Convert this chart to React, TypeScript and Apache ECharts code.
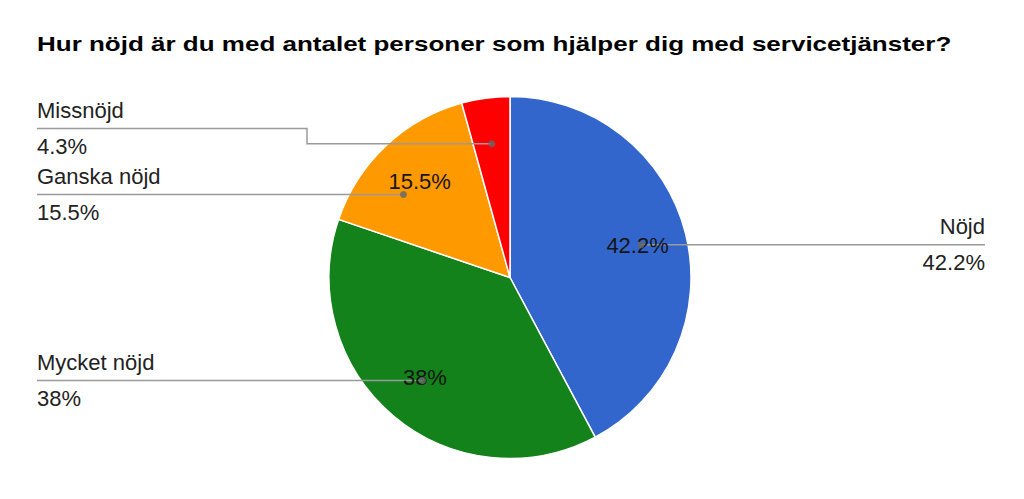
import React, { useEffect, useRef } from "react";
import * as echarts from "echarts";

const TITLE = "Hur nöjd är du med antalet personer som hjälper dig med servicetjänster?";
const categories = ["Nöjd", "Mycket nöjd", "Ganska nöjd", "Missnöjd"];
const values = [42.2, 38, 15.5, 4.3];
const colors = ["#3366cc", "#13821a", "#ff9900", "#ff0000"];

// layout constants (positions / sizes only)
const CX = 510;
const CY = 277.5;
const R = 181;
const RING_INNER = 76;
const DOT_R = 135;
const LEFT_X = 37;
const RIGHT_X = 985;
const BEND_GAP = 22;
const LABEL_GAP = 66;
const FONT = '"Liberation Sans", Arial, sans-serif';

type Info = {
  a0: number;
  a1: number;
  mid: number;
  side: "left" | "right";
  dotX: number;
  dotY: number;
  lineY: number;
  points: number[][];
  dotAngle: number;
};

function computeLayout(): Info[] {
  const total = values.reduce((s, v) => s + v, 0);
  let cum = 0;
  const infos: Info[] = values.map((v) => {
    const a0 = 90 - (360 * cum) / total;
    cum += v;
    const a1 = 90 - (360 * cum) / total;
    const mid = (a0 + a1) / 2;
    const rad = (mid * Math.PI) / 180;
    const dotX = CX + DOT_R * Math.cos(rad);
    const dotY = CY - DOT_R * Math.sin(rad);
    return {
      a0,
      a1,
      mid,
      side: Math.cos(rad) >= 0 ? "right" : "left",
      dotX,
      dotY,
      lineY: dotY,
      points: [],
      dotAngle: mid,
    } as Info;
  });

  (["left", "right"] as const).forEach((side) => {
    const items = infos
      .map((inf, idx) => ({ idx, y: inf.dotY }))
      .filter((it) => infos[it.idx].side === side)
      .sort((a, b) => a.y - b.y);
    let clusters = items.map((it) => ({ items: [it], center: it.y }));
    const pos = (c: { items: any[]; center: number }) =>
      c.items.map((_, k) => c.center + (k - (c.items.length - 1) / 2) * LABEL_GAP);
    let merged = true;
    while (merged) {
      merged = false;
      for (let k = 0; k < clusters.length - 1; k++) {
        const pa = pos(clusters[k]);
        const pb = pos(clusters[k + 1]);
        if (pb[0] - pa[pa.length - 1] < LABEL_GAP) {
          const its = [...clusters[k].items, ...clusters[k + 1].items];
          clusters.splice(k, 2, {
            items: its,
            center: its.reduce((s, it) => s + it.y, 0) / its.length,
          });
          merged = true;
          break;
        }
      }
    }
    clusters.forEach((c) => {
      const p = pos(c);
      c.items.forEach((it, k) => {
        infos[it.idx].lineY = p[k];
      });
    });
  });

  infos.forEach((inf) => {
    const edgeX = inf.side === "left" ? LEFT_X : RIGHT_X;
    const dy = CY - inf.lineY;
    let placed = false;
    if (Math.abs(dy) < DOT_R) {
      const dx = Math.sqrt(DOT_R * DOT_R - dy * dy) * (inf.side === "right" ? 1 : -1);
      let t = (Math.atan2(dy, dx) * 180) / Math.PI;
      while (t > inf.a0) t -= 360;
      while (t < inf.a1) t += 360;
      if (t <= inf.a0 && t >= inf.a1) {
        inf.dotX = CX + dx;
        inf.dotY = inf.lineY;
        inf.dotAngle = t;
        inf.points = [
          [inf.dotX, inf.lineY],
          [edgeX, inf.lineY],
        ];
        placed = true;
      }
    }
    if (!placed) {
      const bendX = inf.side === "left" ? CX - R - BEND_GAP : CX + R + BEND_GAP;
      inf.points = [
        [inf.dotX, inf.dotY],
        [bendX, inf.dotY],
        [bendX, inf.lineY],
        [edgeX, inf.lineY],
      ];
    }
    inf.dotAngle = ((inf.dotAngle % 360) + 360) % 360;
  });
  return infos;
}

export default function App() {
  const ref = useRef<HTMLDivElement>(null);

  useEffect(() => {
    if (!ref.current) return;
    const chart = echarts.init(ref.current, undefined, { renderer: "svg" });
    const infos = computeLayout();

    const pieData = categories.map((name, i) => ({
      name,
      value: values[i],
      itemStyle: { color: colors[i] },
    }));
    const innerData = categories.map((name, i) => ({
      name,
      value: values[i],
      label: { show: values[i] >= 5 },
    }));
    const outerData = categories.map((name, i) => ({ name, value: values[i] }));
    const dotData = infos.map((inf) => [DOT_R, inf.dotAngle]);

    chart.setOption({
      animation: false,
      backgroundColor: "#ffffff",
      graphic: [
        {
          type: "text",
          x: 37,
          y: 44.5,
          scaleX: 1.3,
          silent: true,
          style: {
            text: TITLE,
            font: `bold 20px ${FONT}`,
            fill: "#000000",
            verticalAlign: "middle",
            align: "left",
          },
        },
      ],
      polar: { center: [CX, CY], radius: R },
      angleAxis: {
        type: "value",
        min: 0,
        max: 360,
        startAngle: 0,
        clockwise: false,
        show: false,
        axisLine: { show: false },
        axisTick: { show: false },
        axisLabel: { show: false },
        splitLine: { show: false },
      },
      radiusAxis: {
        type: "value",
        min: 0,
        max: R,
        show: false,
        axisLine: { show: false },
        axisTick: { show: false },
        axisLabel: { show: false },
        splitLine: { show: false },
      },
      series: [
        {
          type: "pie",
          z: 1,
          center: [CX, CY],
          radius: R,
          startAngle: 90,
          clockwise: true,
          silent: true,
          emphasis: { disabled: true },
          itemStyle: { borderColor: "#ffffff", borderWidth: 1.5 },
          label: { show: false },
          labelLine: { show: false },
          data: pieData,
        },
        {
          type: "pie",
          z: 5,
          center: [CX, CY],
          radius: R,
          startAngle: 90,
          clockwise: true,
          silent: true,
          emphasis: { disabled: true },
          itemStyle: { color: "rgba(0,0,0,0)", borderWidth: 0 },
          label: {
            show: true,
            position: "outside",
            formatter: "{n|{b}}\n{v|{c}%}",
            fontFamily: FONT,
            rich: {
              n: { fontSize: 22, lineHeight: 36, color: "#222222", fontFamily: FONT },
              v: { fontSize: 22, lineHeight: 36, color: "#222222", fontFamily: FONT },
            },
          },
          labelLine: {
            show: true,
            smooth: false,
            lineStyle: { color: "#9a9a9a", width: 1.5 },
          },
          labelLayout: (params: any) => {
            const inf = infos[params.dataIndex];
            return {
              x: inf.side === "left" ? LEFT_X : RIGHT_X,
              y: inf.lineY,
              align: inf.side === "left" ? "left" : "right",
              verticalAlign: "middle",
              labelLinePoints: inf.points,
            };
          },
          data: outerData,
        },
        {
          type: "pie",
          z: 6,
          center: [CX, CY],
          radius: [RING_INNER, R],
          startAngle: 90,
          clockwise: true,
          silent: true,
          emphasis: { disabled: true },
          itemStyle: { color: "rgba(0,0,0,0)", borderWidth: 0 },
          label: {
            show: true,
            position: "inside",
            formatter: "{c}%",
            fontSize: 22,
            fontFamily: FONT,
            color: "#151515",
          },
          labelLine: { show: false },
          data: innerData,
        },
        {
          type: "scatter",
          coordinateSystem: "polar",
          symbol: "circle",
          symbolSize: 7,
          silent: true,
          z: 10,
          itemStyle: { color: "#666666" },
          data: dotData,
        },
      ],
    });

    return () => {
      chart.dispose();
    };
  }, []);

  return (
    <div
      ref={ref}
      style={{ position: "absolute", left: 0, top: 0, width: 1024, height: 499 }}
    />
  );
}
